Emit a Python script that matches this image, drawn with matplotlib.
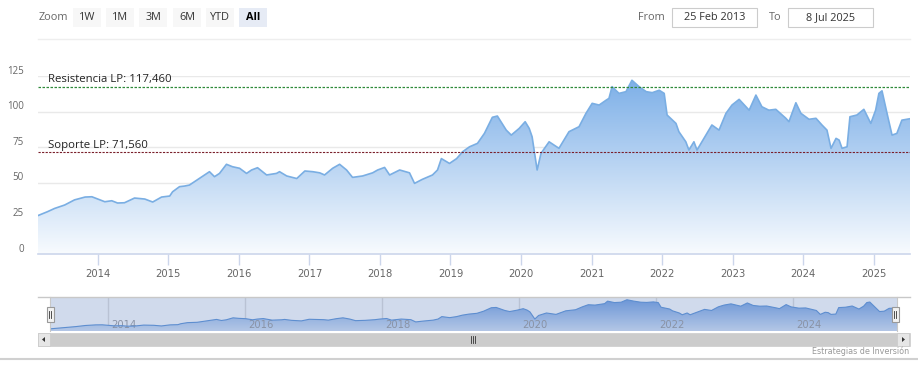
import numpy as np
import matplotlib
matplotlib.use('Agg')
import matplotlib.pyplot as plt
import matplotlib.dates as mdates
import matplotlib.transforms as mtransforms
from matplotlib.patches import Rectangle, Polygon
from matplotlib.lines import Line2D
from matplotlib.colors import LinearSegmentedColormap

# ---------------- data ----------------
dates = [
    "2013-02-25", "2013-04-15", "2013-05-22", "2013-07-13", "2013-09-02", "2013-10-27",
    "2013-12-01", "2014-02-06", "2014-03-14", "2014-04-13", "2014-05-19", "2014-07-10",
    "2014-09-01", "2014-10-12", "2014-11-27", "2015-01-08", "2015-01-23", "2015-02-28",
    "2015-03-25", "2015-04-20", "2015-06-10", "2015-08-02", "2015-08-28", "2015-09-23",
    "2015-10-29", "2015-11-29", "2016-01-05", "2016-02-10", "2016-03-07", "2016-04-07",
    "2016-05-24", "2016-07-14", "2016-07-30", "2016-09-05", "2016-10-27", "2016-12-08",
    "2017-01-18", "2017-02-23", "2017-03-20", "2017-05-01", "2017-06-06", "2017-07-12",
    "2017-08-12", "2017-10-03", "2017-11-24", "2017-12-20", "2018-01-25", "2018-02-20",
    "2018-04-13", "2018-06-03", "2018-06-29", "2018-08-08", "2018-09-30", "2018-10-26",
    "2018-11-15", "2018-12-27", "2019-02-02", "2019-03-05", "2019-04-10", "2019-05-21",
    "2019-06-26", "2019-08-06", "2019-09-01", "2019-10-17", "2019-11-12", "2019-12-23",
    "2020-01-23", "2020-02-13", "2020-02-28", "2020-03-25", "2020-04-14", "2020-05-26",
    "2020-07-16", "2020-09-06", "2020-10-28", "2020-12-03", "2021-01-04", "2021-02-09",
    "2021-03-17", "2021-04-01", "2021-04-17", "2021-05-23", "2021-06-28", "2021-07-29",
    "2021-09-04", "2021-10-11", "2021-11-11", "2021-12-17", "2022-01-12", "2022-01-27",
    "2022-03-14", "2022-03-29", "2022-05-04", "2022-05-20", "2022-06-15", "2022-07-01",
    "2022-08-16", "2022-09-16", "2022-10-23", "2022-11-28", "2022-12-29", "2023-02-04",
    "2023-03-28", "2023-05-02", "2023-06-02", "2023-07-08", "2023-08-13", "2023-10-04",
    "2023-10-20", "2023-11-25", "2023-12-21", "2024-02-01", "2024-03-08", "2024-04-08",
    "2024-05-04", "2024-05-25", "2024-06-20", "2024-07-06", "2024-07-21", "2024-08-16",
    "2024-08-31", "2024-10-06", "2024-11-11", "2024-12-17", "2025-01-11", "2025-01-28",
    "2025-02-13", "2025-03-11", "2025-04-06", "2025-05-01", "2025-05-27", "2025-06-21",
    "2025-07-08",
]
prices = [
    27.0, 29.7, 32.0, 34.4, 38.0, 40.0,
    40.2, 36.7, 37.4, 35.8, 36.0, 39.3,
    38.6, 36.5, 40.0, 40.7, 43.7, 47.3,
    47.7, 48.4, 53.0, 57.8, 54.3, 56.6,
    63.0, 61.3, 60.2, 56.6, 59.0, 60.6,
    55.5, 56.6, 57.8, 54.8, 53.0, 58.3,
    57.8, 57.0, 55.5, 60.2, 63.0, 59.0,
    53.8, 54.8, 57.0, 59.0, 60.8, 55.5,
    59.0, 57.0, 49.6, 52.4, 55.5, 59.0,
    67.0, 63.6, 67.0, 71.8, 75.3, 77.7,
    84.7, 96.0, 96.9, 87.0, 83.5, 88.2,
    92.9, 88.2, 82.3, 59.0, 70.7, 78.8,
    74.2, 85.9, 89.4, 98.8, 105.8, 104.6,
    108.0, 109.3, 117.5, 112.8, 114.0, 122.0,
    117.5, 114.0, 113.3, 115.0, 112.8, 97.6,
    91.7, 85.9, 78.8, 73.0, 78.8, 73.0,
    83.5, 90.6, 87.0, 98.8, 104.6, 108.6,
    101.0, 111.6, 103.4, 101.0, 101.6, 95.3,
    92.9, 106.2, 98.8, 94.6, 95.3, 90.6,
    87.0, 74.2, 81.2, 80.0, 74.2, 75.3,
    96.4, 97.6, 101.6, 91.7, 101.0, 112.8,
    114.6, 98.8, 83.5, 84.7, 94.0, 94.6,
    95.0,
]
resistance = 117.46
support = 71.56
resistance_label = "Resistencia LP: 117,460"
support_label = "Soporte LP: 71,560"
y_ticks = [0, 25, 50, 75, 100, 125]
x_tick_years = list(range(2014, 2026))
nav_tick_years = [2014, 2016, 2018, 2020, 2022, 2024]
zoom_buttons = ["1W", "1M", "3M", "6M", "YTD", "All"]
selected_button = "All"
range_start = "2013-02-25"
range_end = "2025-07-08"
from_label = "25 Feb 2013"
to_label = "8 Jul 2025"
credit = "Estrategias de Inversión"

# ---------------- layout helpers ----------------
W, H = 918, 376
fig = plt.figure(figsize=(W / 100, H / 100), dpi=100)
fig.patch.set_facecolor('white')
FT = fig.transFigure


def fx(px):
    return px / W


def fy(py):
    return 1 - py / H


def rect(x0, y0, x1, y1):
    return [fx(x0), fy(y1), fx(x1) - fx(x0), fy(y0) - fy(y1)]


x = mdates.date2num(np.array(dates, dtype='datetime64[D]'))
v = np.array(prices)
xmin = mdates.date2num(np.datetime64(range_start))
xmax = mdates.date2num(np.datetime64(range_end))

NARROW = ['Liberation Sans Narrow', 'DejaVu Sans']
MAIN = ['Open Sans', 'DejaVu Sans']


def gradient_fill(ax, xs, ys, base, top_val, c_top, c_bot, z=1):
    cmap = LinearSegmentedColormap.from_list('g', [c_bot, c_top])
    grad = np.linspace(0, 1, 256).reshape(-1, 1)
    im = ax.imshow(grad, extent=[xs.min(), xs.max(), base, top_val], origin='lower',
                   aspect='auto', cmap=cmap, zorder=z, interpolation='bilinear')
    verts = np.vstack([np.column_stack([xs, ys]),
                       [[xs[-1], base], [xs[0], base]]])
    poly = Polygon(verts, closed=True, facecolor='none', edgecolor='none',
                   transform=ax.transData)
    ax.add_patch(poly)
    im.set_clip_path(poly)
    return im


# ---------------- main chart ----------------
ax = fig.add_axes(rect(38, 76, 910, 254))
ax.set_xlim(xmin, xmax)
ax.set_ylim(0, 125)
for s in ['top', 'right', 'left']:
    ax.spines[s].set_visible(False)
ax.spines['bottom'].set_color('#ccd6eb')
ax.spines['bottom'].set_linewidth(1.2)
ax.set_facecolor('white')

for t in y_ticks[1:]:
    ax.axhline(t, color='#e9e9e9', lw=1, zorder=0.5)

gradient_fill(ax, x, v, 0, v.max(), '#7eb0e8', '#f8fbfe', z=1)
ax.plot(x, v, color='#7aaee3', lw=1.2, zorder=3, solid_joinstyle='round')
ax.set_xlim(xmin, xmax)
ax.set_ylim(0, 125)

ax.axhline(resistance, color='#2f8a3a', lw=0.9, ls=(0, (2, 1.2)), zorder=4)
ax.axhline(support, color='#7a1f2a', lw=0.8, ls=(0, (2, 1.2)), zorder=4)
lab_tr = mtransforms.offset_copy(
    mtransforms.blended_transform_factory(ax.transAxes, ax.transData),
    fig=fig, x=0, y=1.5, units='dots')
ax.text(10 / 872, resistance, resistance_label, transform=lab_tr, ha='left',
        va='bottom', fontsize=8.2, color='#222222', family=MAIN, zorder=5)
ax.text(10 / 872, support, support_label, transform=lab_tr, ha='left',
        va='bottom', fontsize=8.2, color='#222222', family=MAIN, zorder=5)

# y labels (drawn slightly above gridlines, Highcharts style)
ax.set_yticks([])
ylab_tr = mtransforms.offset_copy(
    mtransforms.blended_transform_factory(ax.transAxes, ax.transData),
    fig=fig, x=0, y=5, units='dots')
for t in y_ticks:
    ax.text(-14 / 872, t, str(t), transform=ylab_tr, ha='right', va='center',
            fontsize=7, color='#666666', family=MAIN)

xt = mdates.date2num(np.array([f"{y}-01-01" for y in x_tick_years], dtype='datetime64[D]'))
ax.set_xticks(xt)
ax.set_xticklabels([str(y) for y in x_tick_years], fontsize=7.2, color='#666666',
                   family=NARROW)
ax.tick_params(axis='x', length=8, width=1, color='#ccd6eb', pad=3)

# ---------------- navigator ----------------
nav = fig.add_axes(rect(50, 297, 897, 331))
nav.set_xlim(xmin, xmax)
nav.set_ylim(20, 131)
nav.axis('off')
nt = mdates.date2num(np.array([f"{y}-01-01" for y in nav_tick_years], dtype='datetime64[D]'))
for t, yname in zip(nt, nav_tick_years):
    nav.axvline(t, color='#dddddd', lw=1, zorder=0.5)
    nav.text(t, 20, str(yname), transform=mtransforms.offset_copy(
        nav.transData, fig=fig, x=3, y=1, units='dots'),
        ha='left', va='bottom', fontsize=7.2, color='#999999', family=NARROW, zorder=2)
gradient_fill(nav, x, v, 20, v.max(), '#6f9ee0', '#d6e4f6', z=1)
nav.plot(x, v, color='#5a92d6', lw=0.8, zorder=3)
nav.set_xlim(xmin, xmax)
nav.set_ylim(20, 131)
nav.add_patch(Rectangle((0, 0), 1, 1, transform=nav.transAxes,
                        facecolor=(102 / 255, 133 / 255, 194 / 255, 0.3),
                        edgecolor='none', zorder=4))

# navigator outline
fig.lines.append(Line2D([fx(38), fx(910)], [fy(297), fy(297)], transform=FT,
                        color='#c8c8c8', lw=1))
for px in (50, 897):
    fig.lines.append(Line2D([fx(px), fx(px)], [fy(297), fy(331)], transform=FT,
                            color='#c8c8c8', lw=0.8))

# handles
for hx in (50, 895):
    fig.patches.append(Rectangle((fx(hx - 3.5), fy(322)), fx(7), 15 / H, transform=FT,
                                 facecolor='#f2f2f2', edgecolor='#999999', lw=0.8,
                                 zorder=6))
    for dx in (-1, 1):
        fig.lines.append(Line2D([fx(hx + dx), fx(hx + dx)], [fy(311), fy(318)],
                                transform=FT, color='#333333', lw=0.6, zorder=7))

# scrollbar
fig.patches.append(Rectangle((fx(38), fy(346)), fx(872), 13 / H, transform=FT,
                             facecolor='#cccccc', edgecolor='#cccccc', lw=0.5))
for bx in (38, 897):
    fig.patches.append(Rectangle((fx(bx), fy(346)), fx(12), 13 / H, transform=FT,
                                 facecolor='#e6e6e6', edgecolor='#cccccc', lw=0.6))
fig.patches.append(Polygon([[fx(42), fy(339.5)], [fx(45), fy(337)], [fx(45), fy(342)]],
                           closed=True, transform=FT, facecolor='#333333',
                           edgecolor='none'))
fig.patches.append(Polygon([[fx(905), fy(339.5)], [fx(902), fy(337)], [fx(902), fy(342)]],
                           closed=True, transform=FT, facecolor='#333333',
                           edgecolor='none'))
for gx in (471, 473, 475):
    fig.lines.append(Line2D([fx(gx), fx(gx)], [fy(336), fy(343)], transform=FT,
                            color='#333333', lw=0.6))

fig.text(fx(909), fy(351), credit, ha='right', va='center', fontsize=5.8,
         color='#999999', family=NARROW)
fig.lines.append(Line2D([0, 1], [fy(358.5), fy(358.5)], transform=FT,
                        color='#d0d0d0', lw=1.5))

# ---------------- range selector toolbar ----------------
fig.lines.append(Line2D([fx(38), fx(910)], [fy(38.5), fy(38.5)], transform=FT,
                        color='#eeeeee', lw=1))
fig.text(fx(39), fy(17.5), "Zoom", ha='left', va='center', fontsize=7.8,
         color='#666666', family=MAIN)
btn_x = [73, 106, 139, 173, 206, 239]
for bx, lab in zip(btn_x, zoom_buttons):
    sel = lab == selected_button
    fig.patches.append(Rectangle((fx(bx), fy(27)), fx(28), 19 / H, transform=FT,
                                 facecolor='#e6ebf5' if sel else '#f7f7f7',
                                 edgecolor='none'))
    fig.text(fx(bx + 14), fy(17.5), lab, ha='center', va='center', fontsize=7.8,
             color='#000000' if sel else '#333333',
             fontweight='bold' if sel else 'normal', family=MAIN)

fig.text(fx(665), fy(17.5), "From", ha='right', va='center', fontsize=7.8,
         color='#666666', family=MAIN)
fig.patches.append(Rectangle((fx(672), fy(27)), fx(85), 19 / H, transform=FT,
                             facecolor='white', edgecolor='#cccccc', lw=0.8))
fig.text(fx(714.5), fy(17.5), from_label, ha='center', va='center', fontsize=7.8,
         color='#333333', family=MAIN)
fig.text(fx(782), fy(17.5), "To", ha='right', va='center', fontsize=7.8,
         color='#666666', family=MAIN)
fig.patches.append(Rectangle((fx(788), fy(27)), fx(85), 19 / H, transform=FT,
                             facecolor='white', edgecolor='#cccccc', lw=0.8))
fig.text(fx(830.5), fy(17.5), to_label, ha='center', va='center', fontsize=7.8,
         color='#333333', family=MAIN)

fig.savefig('out.png', dpi=100, facecolor='white')
